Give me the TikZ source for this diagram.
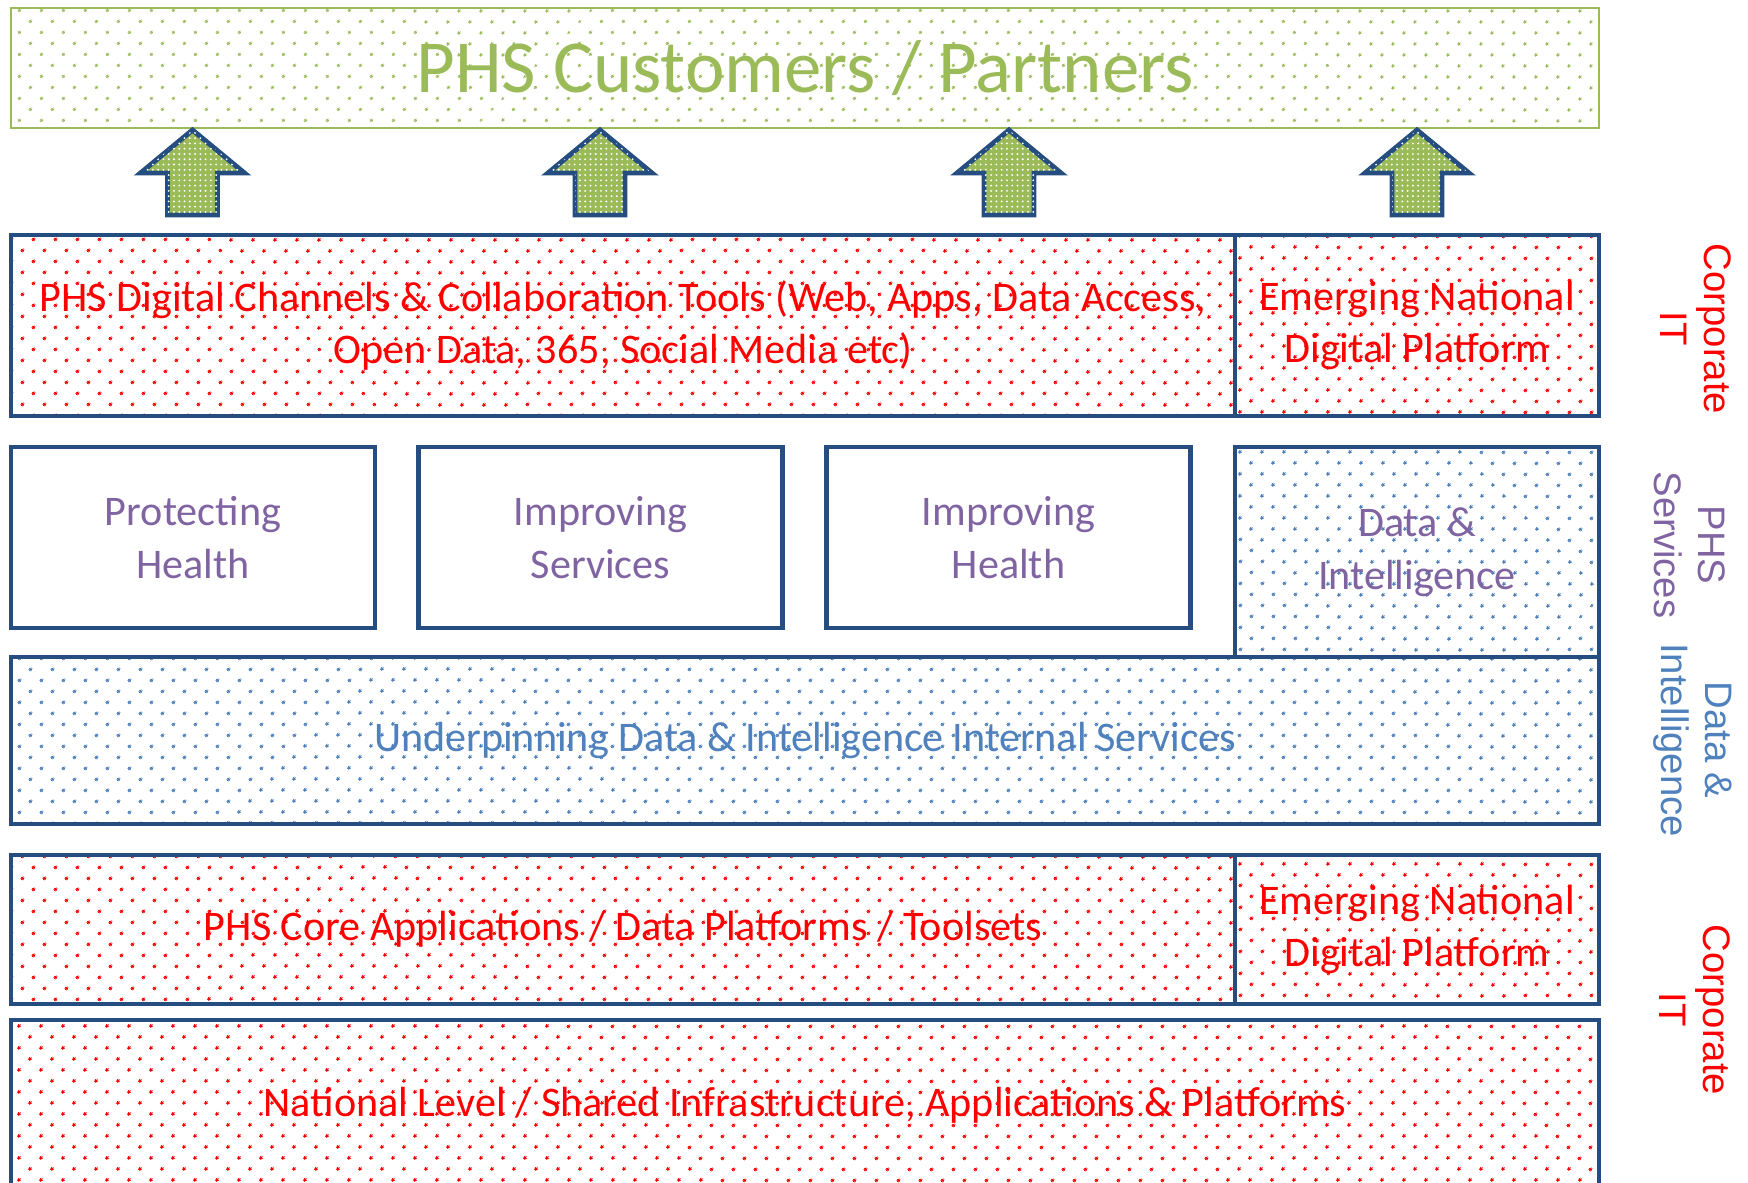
\documentclass[tikz,border=0pt]{standalone}
\usepackage{fontspec}
\setmainfont{Carlito}
\newfontfamily\sidefont{Liberation Sans}
\usepackage{tikz}
\usetikzlibrary{patterns.meta}
\definecolor{phsgreen}{RGB}{155,187,89}
\definecolor{phsred}{RGB}{255,0,0}
\definecolor{phspurple}{RGB}{128,100,162}
\definecolor{phsblue}{RGB}{79,129,189}
\definecolor{edgeblue}{RGB}{37,77,128}
\tikzset{
    layer/.style={draw=edgeblue, line width=1.4pt, inner sep=0pt, outer sep=0pt, align=center, font=\fontsize{12}{15}\selectfont},
    reddots/.style={layer, pattern={Dots[distance=4.35pt,angle=45,radius=0.5pt]}, pattern color=phsred, text=phsred},
    bluedots/.style={layer, pattern={Dots[distance=4.35pt,angle=45,radius=0.5pt]}, pattern color=phsblue, text=phsblue},
    service/.style={layer, text=phspurple, minimum width=3.64cm, minimum height=1.81cm},
    sidelabel/.style={rotate=-90, align=center, font=\sidefont\fontsize{10.9}{12.6}\selectfont},
    uparrow/.style={draw=edgeblue, line width=1.4pt, fill=phsgreen, postaction={pattern={Dots[distance=1.5pt,radius=0.3pt]}, pattern color=white}}
}

\begin{document}
\begin{tikzpicture}[scale=1]
\useasboundingbox (0,0) rectangle (17.48,-11.82);
\clip (0,0) rectangle (17.48,-11.82);
\node[draw=phsgreen, line width=0.7pt, inner sep=0pt, pattern={Dots[distance=4.35pt,angle=45,radius=0.45pt]}, pattern color=phsgreen, text=phsgreen, minimum width=15.88cm, minimum height=1.2cm, font=\fontsize{21.3}{26}\selectfont] (partners) at (8.05,-0.68) {PHS Customers / Partners};
\foreach \x/\p in {1.925/tipA, 6.0/tipB, 10.09/tipC, 14.17/tipD}{
    \coordinate (\p) at (\x,-1.30);
    \draw[uparrow] (\p) -- ++(0.52,-0.43) -- ++(-0.27,0) -- ++(0,-0.42) -- ++(-0.5,0) -- ++(0,0.42) -- ++(-0.27,0) -- cycle;
}
\node[reddots, minimum width=12.24cm, minimum height=1.81cm] (channels) at (6.23,-3.255) {PHS Digital Channels \& Collaboration Tools (Web, Apps, Data Access,\\Open Data, 365, Social Media etc)};
\node[reddots, minimum width=3.64cm, minimum height=1.81cm] (natplat) at (14.17,-3.255) {Emerging National\\Digital Platform};
\foreach \x/\p/\t in {1.93/protect/{Protecting\\Health}, 6.005/services/{Improving\\Services}, 10.085/health/{Improving\\Health}}{
    \node[service] (\p) at (\x,-5.375) {\t};
}
\node[bluedots, text=phspurple, minimum width=3.64cm, minimum height=2.10cm] (intel) at (14.17,-5.52) {Data \&\\Intelligence};
\node[bluedots, minimum width=15.88cm, minimum height=1.67cm] (underpin) at (8.05,-7.405) {Underpinning Data \& Intelligence Internal Services};
\node[reddots, minimum width=12.24cm, minimum height=1.49cm] (core) at (6.23,-9.295) {PHS Core Applications / Data Platforms / Toolsets};
\node[reddots, minimum width=3.64cm, minimum height=1.49cm] (natplatB) at (14.17,-9.295) {Emerging National\\Digital Platform};
\node[reddots, minimum width=15.88cm, minimum height=1.70cm] (shared) at (8.05,-11.05) {National Level / Shared Infrastructure, Applications \& Platforms};
\node[sidelabel, text=phsred] (corpA) at (16.96,-3.29) {Corporate\\IT};
\node[sidelabel, text=phspurple] (phsserv) at (16.90,-5.45) {PHS\\Services};
\node[sidelabel, text=phsblue] (dilabel) at (16.93,-7.40) {Data \&\\Intelligence};
\node[sidelabel, text=phsred] (corpB) at (16.95,-10.10) {Corporate\\IT};
\end{tikzpicture}
\end{document}
